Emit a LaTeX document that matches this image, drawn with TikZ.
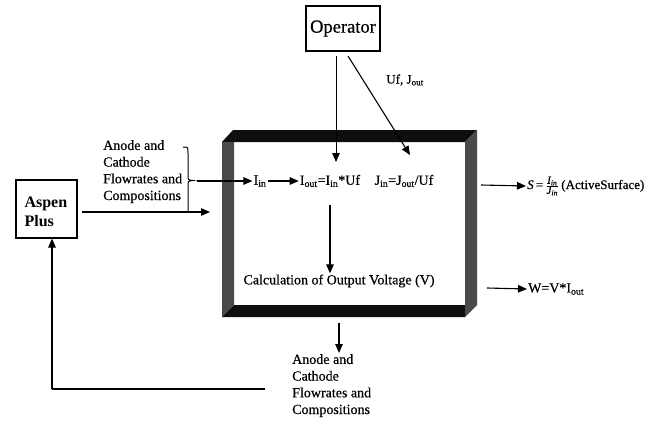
\documentclass[tikz,border=0pt]{standalone}
\usepackage{fontspec}
\setmainfont{Liberation Serif}[UprightFeatures={FakeBold=0.5},ItalicFeatures={FakeBold=0.5}]
\usetikzlibrary{arrows.meta}
\definecolor{bevdark}{HTML}{0E0E0E}
\definecolor{bevside}{HTML}{4A4A4A}
\newcommand{\sbs}[1]{\textsubscript{#1}}
\begin{document}
\begin{tikzpicture}[x=1pt,y=-1pt,
  ln/.style={line width=1.1pt},
  arr/.style={line width=1.1pt,-{Triangle[length=9pt,width=7.5pt]}},
  thinarr/.style={line width=0.8pt,-{Triangle[length=9pt,width=7.5pt]}},
  txt/.style={font=\fontsize{14}{16.7}\selectfont, inner sep=1pt},
  boxed/.style={draw, line width=1.1pt, fill=white}]
\useasboundingbox (0,0) rectangle (661,423);
% 3D box
\fill[white] (234,142) rectangle (465,305);
\fill[bevdark] (233,130) -- (477,130) -- (465,142) -- (222,142) -- cycle;
\fill[bevside] (222,142) -- (234,142) -- (234,305) -- (222,317) -- cycle;
\fill[bevdark] (222,317) -- (234,305) -- (465,305) -- (465,317) -- cycle;
\fill[bevside] (465,142) -- (477,130) -- (477,305) -- (465,317) -- cycle;
% Operator
\node[boxed, minimum width=74pt, minimum height=45pt, inner sep=0pt,
  font=\fontsize{18.5}{20}\selectfont] (op) at (343,28.5) {Operator};
\coordinate (opv) at (336,56);
\coordinate (opd) at (348,56);
\coordinate (opvt) at (336,162);
\coordinate (opdt) at (410,155);
\draw[thinarr] (opv) -- (opvt);
\draw[arr] (opd) -- (opdt);
\node[font=\fontsize{13}{14}\selectfont] (ufj) at (405,80) {Uf, J\sbs{out}};
% Aspen Plus
\node[boxed, minimum width=61pt, minimum height=58pt, inner sep=0pt] (asp) at (46.5,209) {};
\node[font=\fontsize{16}{19}\selectfont\bfseries, align=left, anchor=west] (asptxt) at (21,212) {Aspen\\Plus};
% left input label
\node[txt, align=left, anchor=north west] (inlbl) at (102,139) {Anode and\\Cathode\\Flowrates and\\Compositions};
\draw[line width=1pt] (183,147) .. controls (188,147) .. (188,153) -- (188,175) .. controls (188,180) .. (193,180.5) .. controls (188,181) .. (188,186) -- (188,212);
\coordinate (aspout) at (82,212);
\coordinate (aspend) at (210,212);
\draw[arr] (aspout) -- (aspend);
\coordinate (brtip) at (197,181);
% inner texts
\node[txt] (iin) at (260,181) {I\sbs{in}};
\node[txt] (iout) at (330,181) {I\sbs{out}=I\sbs{in}*Uf};
\node[txt] (jin) at (404,181) {J\sbs{in}=J\sbs{out}/Uf};
\draw[arr] (brtip) -- (iin.west);
\draw[arr] (iin.east) -- (iout.west);
\node[txt] (calc) at (339,281) {Calculation of Output Voltage (V)};
\coordinate (cv1) at (330,205);
\draw[arr] (cv1) -- (calc.north -| cv1);
% right outputs
\coordinate (sarr) at (481,185);
\node[anchor=west, inner sep=1pt, font=\fontsize{13}{14}\selectfont] (sform) at (526,186)
  {\textit{S}\,=\,$\frac{\mbox{\fontsize{11}{11}\selectfont\itshape I\sbs{in}}}{\mbox{\fontsize{11}{11}\selectfont\itshape J\sbs{in}}}$\,(ActiveSurface)};
\draw[arr] (sarr) -- (sform.west);
\coordinate (warr) at (487,288);
\node[anchor=west, inner sep=1pt, font=\fontsize{14}{16}\selectfont] (wform) at (527,289) {W=V*I\sbs{out}};
\draw[arr] (warr) -- (wform.west);
% bottom output
\coordinate (bo1) at (339,323);
\node[txt, align=left, anchor=north west] (outlbl) at (291,353) {Anode and\\Cathode\\Flowrates and\\Compositions};
\draw[arr] (bo1) -- (bo1 |- outlbl.north);
% feedback
\coordinate (fb1) at (265,389);
\coordinate (fb2) at (52,389);
\draw[ln] (fb1) -- (fb2);
\draw[arr] (fb2) -- (asp.south -| fb2);
\end{tikzpicture}
\end{document}
